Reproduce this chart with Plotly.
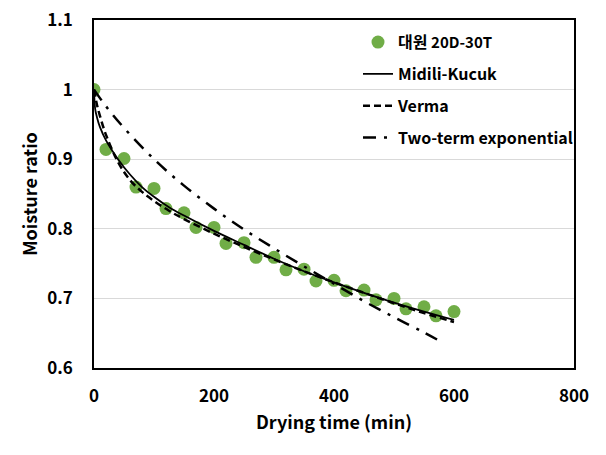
import plotly.graph_objects as go

# Experimental data (대원 20D-30T)
time_obs = [0, 20, 50, 70, 100, 120, 150, 170, 200, 220, 250, 270, 300, 320,
            350, 370, 400, 420, 450, 470, 500, 520, 550, 570, 600]
mr_obs = [1.000, 0.914, 0.901, 0.860, 0.858, 0.829, 0.823, 0.802, 0.802, 0.779,
          0.780, 0.759, 0.759, 0.741, 0.742, 0.725, 0.726, 0.711, 0.712, 0.698,
          0.700, 0.685, 0.688, 0.675, 0.681]

# Model curves
time_midili = [0, 2, 5, 10, 20, 40, 60, 80, 100, 125, 150, 200, 250, 300, 350,
               400, 450, 500, 550, 600]
mr_midili = [1.000, 0.972, 0.960, 0.946, 0.927, 0.900, 0.878, 0.860, 0.846, 0.831,
             0.819, 0.797, 0.777, 0.757, 0.739, 0.723, 0.708, 0.694, 0.681, 0.669]

time_verma = [0, 5, 10, 20, 40, 60, 80, 100, 125, 150, 200, 250, 300, 350,
              400, 450, 500, 550, 600]
mr_verma = [1.000, 0.978, 0.962, 0.935, 0.896, 0.870, 0.853, 0.840, 0.826, 0.814,
            0.793, 0.774, 0.756, 0.739, 0.723, 0.708, 0.693, 0.679, 0.666]

time_twoterm = [0, 20, 50, 100, 150, 200, 250, 300, 350, 400, 450, 500, 550, 580]
mr_twoterm = [1.000, 0.976, 0.945, 0.900, 0.862, 0.829, 0.799, 0.772, 0.746,
              0.721, 0.696, 0.673, 0.651, 0.637]

x_ticks = [0, 200, 400, 600, 800]
y_ticks = [0.6, 0.7, 0.8, 0.9, 1.0, 1.1]
y_tick_text = ["0.6", "0.7", "0.8", "0.9", "1", "1.1"]

FONT = "Noto Sans CJK KR, Malgun Gothic, sans-serif"

fig = go.Figure()
fig.add_trace(go.Scatter(
    x=time_obs, y=mr_obs, mode="markers",
    name="대원 <span style='font-size:15px'>20D-30T</span>",
    marker=dict(color="#70AD47", size=13), legendgroup="a"))
fig.add_trace(go.Scatter(
    x=time_midili, y=mr_midili, mode="lines", name="Midili-Kucuk",
    line=dict(color="black", width=1.8, shape="spline"), legendgroup="b"))
fig.add_trace(go.Scatter(
    x=time_verma, y=mr_verma, mode="lines", name="Verma",
    line=dict(color="black", width=2.5, dash="7px,4px", shape="spline"), legendgroup="c"))
fig.add_trace(go.Scatter(
    x=time_twoterm, y=mr_twoterm, mode="lines", name="Two-term exponential",
    line=dict(color="black", width=2.5, dash="13px,8px,3px,8px", shape="spline"),
    legendgroup="d"))

fig.update_layout(
    width=606, height=455,
    margin=dict(l=94, r=32, t=20, b=87, autoexpand=False),
    paper_bgcolor="white", plot_bgcolor="white",
    font=dict(family=FONT, color="black", size=17, weight="bold"),
    showlegend=True,
    legend=dict(x=0.55, y=0.985, xanchor="left", yanchor="top",
                bgcolor="rgba(0,0,0,0)", traceorder="grouped", tracegroupgap=8,
                font=dict(family=FONT, size=16, color="black", weight="bold")),
    xaxis=dict(range=[0, 800], tickvals=x_ticks, showgrid=False, zeroline=False,
               showline=True, linecolor="black", linewidth=1.5, mirror=True,
               ticks="", ticklabelstandoff=12,
               tickfont=dict(size=17, weight="bold"),
               title=dict(text="Drying time (min)", font=dict(size=18, weight="bold"),
                          standoff=10)),
    yaxis=dict(range=[0.6, 1.1], tickvals=y_ticks, ticktext=y_tick_text,
               showgrid=True, gridcolor="#D9D9D9", gridwidth=1, zeroline=False,
               showline=True, linecolor="black", linewidth=1.5, mirror=True,
               ticks="", ticklabelstandoff=16,
               tickfont=dict(size=17, weight="bold"),
               title=dict(text="Moisture ratio", font=dict(size=18, weight="bold"),
                          standoff=5)),
)

fig.write_html("out.html", config={"displayModeBar": False},
               post_script="document.body.style.margin='0';document.body.style.overflow='hidden';")
